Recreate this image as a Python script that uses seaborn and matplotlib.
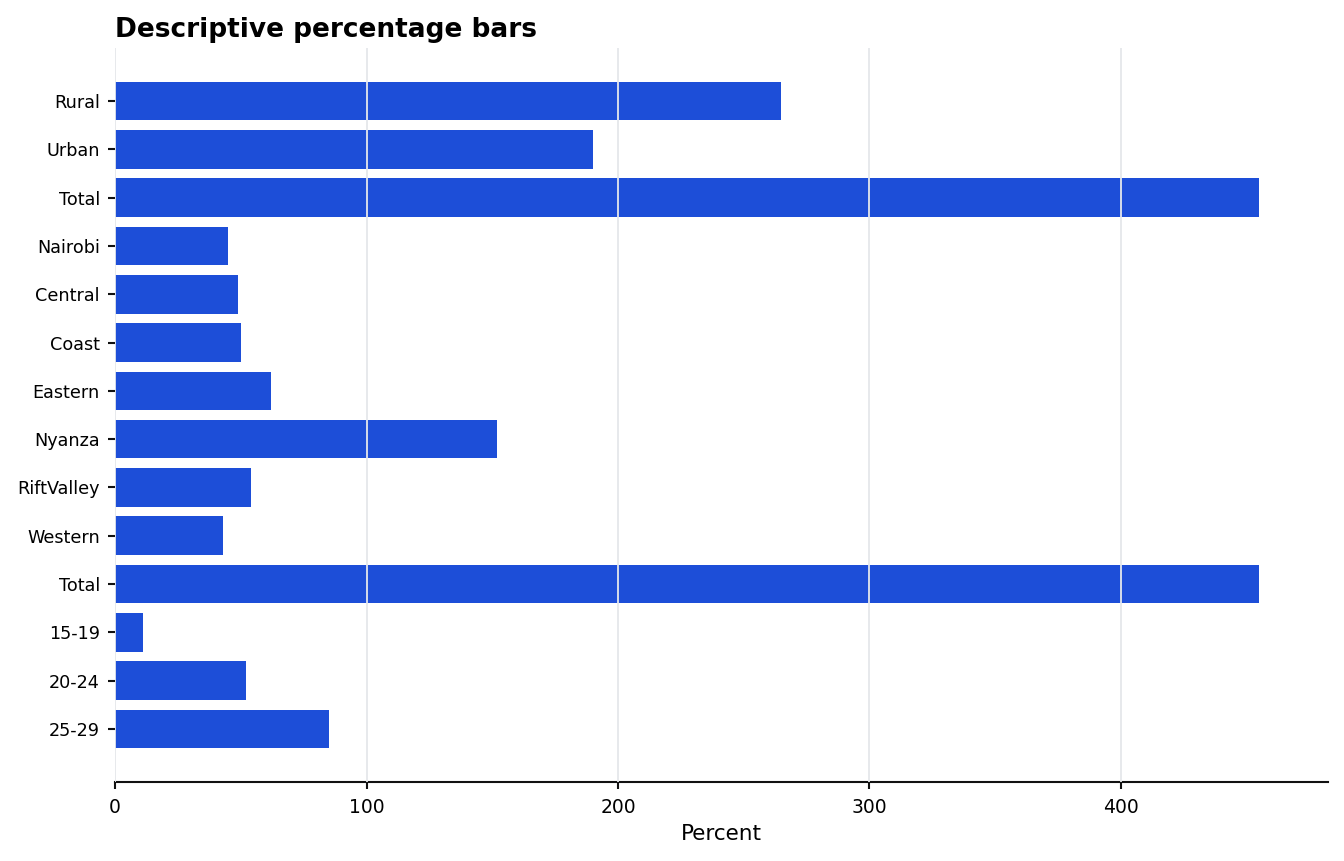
import pandas as pd
import matplotlib.pyplot as plt
import seaborn as sns

labels = ['Rural', 'Urban', 'Total', 'Nairobi', 'Central', 'Coast', 'Eastern',
          'Nyanza', 'RiftValley', 'Western', 'Total', '15-19', '20-24', '25-29']
percent = [265, 190, 455, 45, 49, 50, 62, 152, 54, 43, 455, 11, 52, 85]


def main():
    # duplicate "Total" labels -> keep rows distinct with a positional key
    df = pd.DataFrame({
        'key': [f'{i}_{l}' for i, l in enumerate(labels)],
        'label': labels,
        'percent': percent,
    })

    sns.set_style('white')
    plt.rcParams['font.family'] = ['DejaVu Sans']
    plt.rcParams['text.color'] = 'black'
    plt.rcParams['axes.labelcolor'] = 'black'
    plt.rcParams['xtick.color'] = '#111111'
    plt.rcParams['ytick.color'] = '#111111'
    plt.rcParams['xtick.labelcolor'] = 'black'
    plt.rcParams['ytick.labelcolor'] = 'black'

    fig = plt.figure(figsize=(13.44, 8.61), dpi=100)
    ax = fig.add_axes([0.0856, 0.092, 0.9024, 0.852])

    sns.barplot(
        data=df, x='percent', y='key', orient='h',
        color='#1d4ed8', saturation=1, width=0.8, linewidth=0, ax=ax,
    )

    n = len(labels)
    ax.set_ylim(n - 1 + 1.09, -1.09)
    ax.set_xlim(0, max(percent) * 1.06)
    ax.set_yticks(range(n))
    ax.set_yticklabels(df['label'])

    ax.grid(axis='x', color='#e5e7eb', linewidth=1.3)
    ax.grid(axis='y', visible=False)
    ax.set_axisbelow(False)

    for side in ['left', 'top', 'right']:
        ax.spines[side].set_visible(False)
    ax.spines['bottom'].set_linewidth(1.5)
    ax.spines['bottom'].set_color('#111111')

    ax.tick_params(axis='y', left=True, length=5, width=1.5, labelsize=12.7, pad=6)
    ax.tick_params(axis='x', bottom=True, length=5, width=1.5, labelsize=13.5, pad=7)

    ax.set_ylabel('')
    ax.set_xlabel('Percent', fontsize=15.5, labelpad=5)
    ax.set_title('Descriptive percentage bars', loc='left',
                 fontsize=19, fontweight='bold', pad=8)

    fig.savefig('out.png', dpi=100)
    plt.close(fig)


if __name__ == '__main__':
    main()
